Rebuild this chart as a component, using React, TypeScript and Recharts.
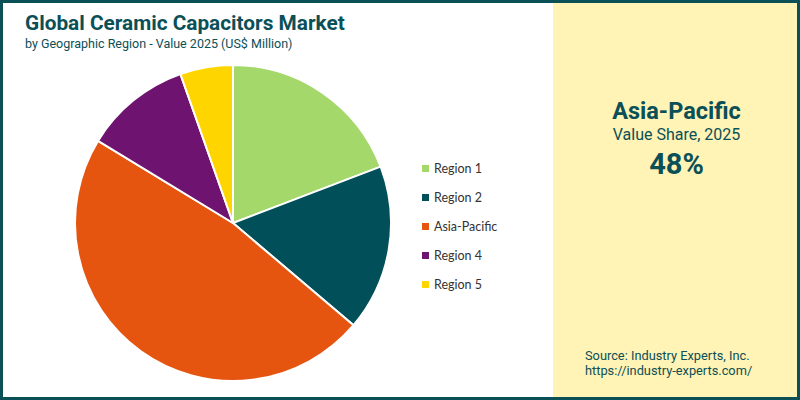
import React from 'react';
import { PieChart, Pie, Cell, Legend } from 'recharts';

const regions = ['Region 1', 'Region 2', 'Asia-Pacific', 'Region 4', 'Region 5'];
const shares = [19.2, 17.0, 47.5, 10.9, 5.4];
const COLORS = ['#A5D86A', '#014F59', '#E5550F', '#6E1470', '#FFD500'];

const TEAL = '#0B4F57';
const FONT = 'Roboto, "Open Sans", sans-serif';

const data = regions.map((name, i) => ({ name, value: shares[i] }));

// keep legend in data order (recharts sorts the payload otherwise)
const renderLegend = () => (
  <ul style={{ listStyle: 'none', margin: 0, padding: 0 }}>
    {regions.map((name, index) => (
      <li
        key={`item-${index}`}
        style={{ display: 'flex', alignItems: 'center', height: 29, fontSize: 12.5, color: '#333', fontFamily: 'Lato, "Open Sans", sans-serif' }}
      >
        <span style={{ display: 'inline-block', width: 7, height: 7, background: COLORS[index], marginRight: 5 }} />
        {name}
      </li>
    ))}
  </ul>
);

const App: React.FC = () => {
  return (
    <div style={{ position: 'fixed', left: 0, top: 0, width: 800, height: 400, background: '#fff', fontFamily: FONT, overflow: 'hidden' }}>
      <div style={{ position: 'absolute', left: 553, top: 0, width: 247, height: 400, background: '#FFF3B5' }} />
      <div style={{ position: 'absolute', left: 25, top: 10, color: TEAL }}>
        <div style={{ fontSize: 20.8, fontWeight: 700, lineHeight: '26px' }}>Global Ceramic Capacitors Market</div>
        <div style={{ fontSize: 12.5, lineHeight: '16px' }}>by Geographic Region - Value 2025 (US$ Million)</div>
      </div>
      <div style={{ position: 'absolute', left: 0, top: 0 }}>
        <PieChart width={800} height={400} margin={{ top: 0, right: 0, bottom: 0, left: 0 }}>
          <Pie
            data={data}
            dataKey="value"
            nameKey="name"
            cx={233}
            cy={223}
            outerRadius={158}
            startAngle={90}
            endAngle={-270}
            stroke="#fff"
            strokeWidth={2}
            isAnimationActive={false}
          >
            {data.map((entry, index) => (
              <Cell key={`cell-${index}`} fill={COLORS[index % COLORS.length]} />
            ))}
          </Pie>
          <Legend content={renderLegend} wrapperStyle={{ left: 422, top: 154, width: 120 }} />
        </PieChart>
      </div>
      <div style={{ position: 'absolute', left: 553, top: 97, width: 247, textAlign: 'center', color: TEAL }}>
        <div style={{ fontSize: 23.5, fontWeight: 700, lineHeight: '28px' }}>Asia-Pacific</div>
        <div style={{ fontSize: 16, lineHeight: '19px' }}>Value Share, 2025</div>
        <div style={{ fontSize: 29, fontWeight: 700, lineHeight: '40px' }}>48%</div>
      </div>
      <div style={{ position: 'absolute', left: 585, top: 348, color: TEAL, fontSize: 12.8, lineHeight: '15px' }}>
        <div>Source: Industry Experts, Inc.</div>
        <div>https://industry-experts.com/</div>
      </div>
      <div style={{ position: 'absolute', left: 0, top: 0, width: 800, height: 400, boxSizing: 'border-box', border: `3px solid ${TEAL}`, pointerEvents: 'none' }} />
    </div>
  );
};

export default App;
